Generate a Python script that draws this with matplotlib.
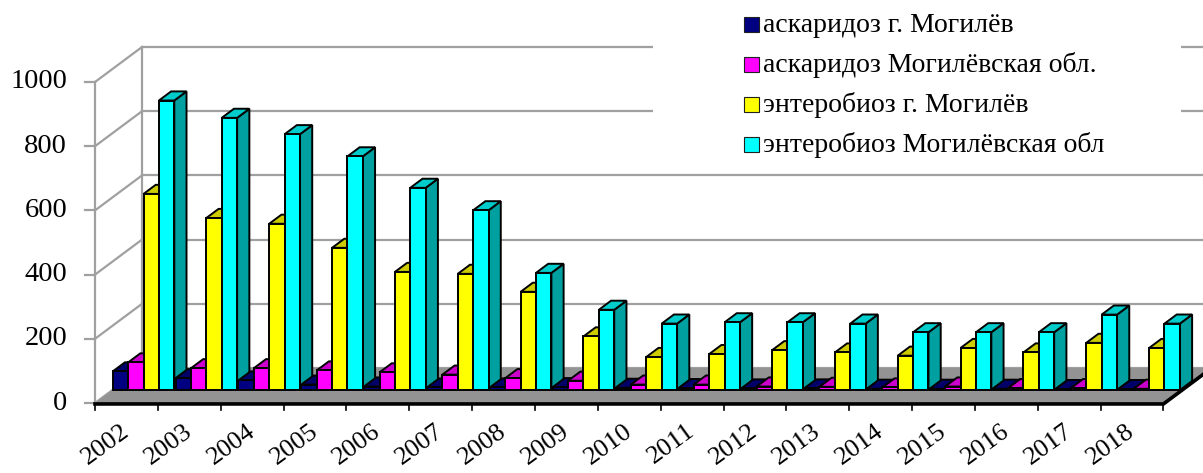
import numpy as np
import matplotlib.pyplot as plt
from matplotlib.patches import Polygon, Rectangle

#-- data
years = [str(y) for y in range(2002, 2019)]
ascar_city   = [58, 37, 30, 17, 11, 8, 8, 9, 7, 6, 5, 5, 4, 4, 4, 3, 3]
ascar_region = [86, 68, 68, 61, 55, 48, 37, 29, 17, 17, 11, 10, 8, 11, 6, 6, 4]
entero_city   = [611, 536, 518, 443, 368, 362, 306, 167, 103, 112, 124, 117, 107, 131, 117, 147, 131]
entero_region = [902, 848, 797, 728, 630, 560, 365, 250, 207, 211, 211, 207, 180, 180, 180, 235, 207]

labels = ['аскаридоз г. Могилёв', 'аскаридоз Могилёвская обл.',
          'энтеробиоз г. Могилёв', 'энтеробиоз Могилёвская обл']
series = [ascar_city, ascar_region, entero_city, entero_region]

#-- face colours: front, side, top
front = ['#000080', '#ff00ff', '#ffff00', '#00ffff']
side  = ['#000050', '#a000a0', '#a0a000', '#00a0a0']
top   = ['#000068', '#cc00cc', '#cccc00', '#00cccc']

yticks = np.arange(0, 1001, 200)

#-- geometry (pixels of the target picture)
W, H = 1203, 473
px_x = 62.85          # pixels per category
px_y = 0.321          # pixels per value unit
x0_px, y0_px = 95, 403
DX = 47 / px_x        # depth offset in category units
DY = 35 / px_y        # depth offset in value units
f0, f1 = 0.37, 0.63   # bar depth range (fraction of floor depth)
bw = 0.245            # bar width
n = len(years)

fig = plt.figure(figsize=(W / 100, H / 100), dpi=100)
ax = fig.add_axes([0, 0, 1, 1])
ax.set_xlim(-x0_px / px_x, (W - x0_px) / px_x)
ax.set_ylim(-(H - y0_px) / px_y, y0_px / px_y)
ax.axis('off')

grid_c = '#a0a0a0'
lw_grid = 1.6

#-- back wall and left wall gridlines
for v in yticks:
    ax.plot([DX, n + DX + 1], [v + DY, v + DY], color=grid_c, lw=lw_grid, zorder=1)
    ax.plot([0, DX], [v, v + DY], color=grid_c, lw=lw_grid, zorder=1)
    ax.plot([-10 / px_x, 0], [v, v], color=grid_c, lw=lw_grid, zorder=1)
    ax.text(-28 / px_x, v, str(v), ha='right', va='center', fontsize=20.5,
            family='Liberation Serif')
ax.plot([DX, DX], [DY, 1000 + DY], color=grid_c, lw=lw_grid, zorder=1)
ax.plot([0, 0], [0, 1000], color=grid_c, lw=lw_grid, zorder=1)

#-- floor
floor = Polygon([(0, 0), (n, 0), (n + DX, DY), (DX, DY)], closed=True,
                facecolor='#939393', edgecolor='none', zorder=2)
ax.add_patch(floor)
ax.plot([0, n, n + DX], [-3, -3, DY - 3], color='black', lw=2.6, zorder=2.5,
        solid_joinstyle='miter')

#-- category ticks
for i in range(n + 1):
    ax.plot([i, i], [-4, -22], color='black', lw=1.2, zorder=2)

#-- bars
for i in range(n):
    for k, s in enumerate(series):
        h = s[i]
        xl = i + 0.005 + k * bw + f0 * DX
        yb = f0 * DY
        ddx = (f1 - f0) * DX
        ddy = (f1 - f0) * DY
        z = 3 + i * 0.01 + k * 0.001
        ax.add_patch(Polygon([(xl + bw, yb), (xl + bw + ddx, yb + ddy),
                              (xl + bw + ddx, yb + ddy + h), (xl + bw, yb + h)],
                             facecolor=side[k], edgecolor='black', lw=1.4, zorder=z))
        ax.add_patch(Polygon([(xl, yb + h), (xl + bw, yb + h),
                              (xl + bw + ddx, yb + h + ddy), (xl + ddx, yb + h + ddy)],
                             facecolor=top[k], edgecolor='black', lw=1.4, zorder=z))
        ax.add_patch(Rectangle((xl, yb), bw, h, facecolor=front[k],
                               edgecolor='black', lw=1.4, zorder=z))

#-- year labels
for i, yr in enumerate(years):
    ax.text(i + 0.5 - 6 / px_x, -17 / px_y, yr, rotation=36, rotation_mode='anchor',
            ha='right', va='top', fontsize=19, family='Liberation Serif')

#-- legend (white box over the gridlines)
fig.patches.append(Rectangle((653 / W, 1 - 165 / H), (1181 - 653) / W, 165 / H,
                             transform=fig.transFigure, facecolor='white',
                             edgecolor='none', zorder=10))
rows = [25, 65, 105, 145]
for k, lab in enumerate(labels):
    yc = rows[k]
    fig.patches.append(Rectangle((744 / W, 1 - (yc + 7) / H), 15 / W, 15 / H,
                                 transform=fig.transFigure, facecolor=front[k],
                                 edgecolor='#202020', lw=0.8, zorder=11))
    fig.text(763 / W, 1 - yc / H, lab, ha='left', va='center', fontsize=20,
             family='Liberation Serif', zorder=12)

plt.savefig('out.png', dpi=100)
